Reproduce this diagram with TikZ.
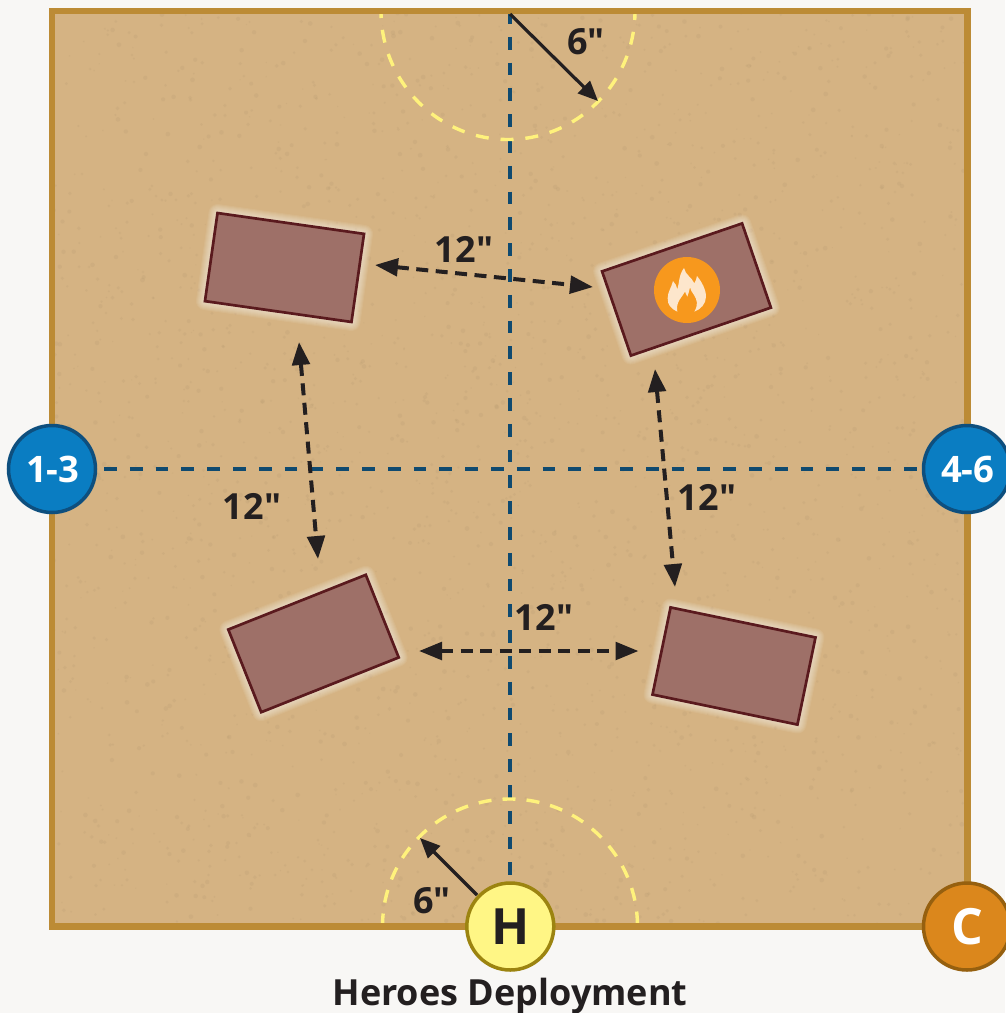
\documentclass[tikz,border=0pt]{standalone}
\usepackage{fontspec}
\setmainfont{Open Sans}[Ligatures=TeXOff]
\usetikzlibrary{arrows.meta,calc}
\definecolor{paper}{HTML}{F8F7F5}
\definecolor{board}{HTML}{D5B383}
\definecolor{boardedge}{HTML}{BC8B35}
\definecolor{speck}{HTML}{B5996F}
\definecolor{linenavy}{HTML}{0F4A70}
\definecolor{arcyellow}{HTML}{FFF27C}
\definecolor{ink}{HTML}{231F20}
\definecolor{ruin}{HTML}{9E7068}
\definecolor{ruinedge}{HTML}{5A1A1E}
\definecolor{flameorange}{HTML}{F7981D}
\definecolor{flamelight}{HTML}{FDE6CC}
\definecolor{blueA}{HTML}{0A7DC2}
\definecolor{blueB}{HTML}{0E4F7E}
\definecolor{yelA}{HTML}{FFF685}
\definecolor{yelB}{HTML}{9C8410}
\definecolor{orA}{HTML}{DB871C}
\definecolor{orB}{HTML}{96600F}
\tikzset{
  ruinbox/.style={draw=ruinedge,fill=ruin,line width=2.7pt,minimum width=148pt,minimum height=89pt,inner sep=0pt,outer sep=0pt},
  ruinglow/.style={draw=white,line width=#1,opacity=0.07,line join=round,fill=white,fill opacity=0.07,minimum width=148pt,minimum height=89pt,inner sep=0pt,outer sep=0pt},
  marker/.style={circle,line width=3.5pt,minimum size=87pt,inner sep=0pt,outer sep=0pt,font=\bfseries\fontsize{36.5}{37}\selectfont},
  bigmarker/.style={marker,font=\bfseries\fontsize{50}{50}\selectfont},
  axisline/.style={draw=linenavy,line width=3.4pt,dash pattern=on 12.8pt off 13pt},
  arcline/.style={draw=arcyellow,line width=3.4pt},
  solidarrow/.style={draw=ink,line width=3.2pt,-{Triangle[length=20pt,width=17pt]}},
  gaparrow/.style={draw=ink,line width=4pt,dash pattern=on 12pt off 7.5pt,{Triangle[length=23pt,width=17.5pt]}-{Triangle[length=23pt,width=17.5pt]}},
  label/.style={text=ink,font=\bfseries\fontsize{36}{36}\selectfont,inner sep=0pt},
}
\newcommand{\ruinat}[3]{%
  \foreach \g in {18pt,16pt,14pt,12pt,10pt,8pt,6pt,4pt}{\node[ruinglow=\g,rotate=#2] at (#1) {};}
  \node[ruinbox,rotate=#2] (#3) at (#1) {};}
\begin{document}
\begin{tikzpicture}[x=1pt,y=-1pt]
\useasboundingbox (0,0) rectangle (1005,1013);
\fill[paper] (0,0) rectangle (1005,1013);
% board
\fill[board] (52,11) rectangle (967.5,926.5);
\begin{scope}
\clip (52,11) rectangle (967.5,926.5);
\pgfmathsetseed{7}
\foreach \i in {1,...,2600}{
  \pgfmathsetmacro{\px}{52+rnd*916}
  \pgfmathsetmacro{\py}{11+rnd*916}
  \pgfmathsetmacro{\pr}{0.6+rnd*1.8}
  \fill[speck,opacity=0.2] (\px,\py) circle[radius=\pr pt];
}
\end{scope}
% axes
\coordinate (topmid) at (510,11);
\coordinate (botmid) at (510,880);
\coordinate (leftmid) at (104,469);
\coordinate (rightmid) at (918,469);
\draw[axisline] (topmid) -- (botmid);
\draw[axisline] (leftmid) -- (rightmid);
% arcs
\draw[arcline,dash pattern=on 13pt off 11.9pt,dash phase=6pt] (381,11) arc[start angle=180,end angle=360,x radius=127pt,y radius=128.5pt];
\draw[arcline,dash pattern=on 13pt off 11.1pt] (382.5,926.5) arc[start angle=180,end angle=0,radius=127.5pt];
\draw[boardedge,line width=6.5pt] (52,11) rectangle (967.5,926.5);
% ruins
\ruinat{284.5,267.5}{-8.1}{ruinA}
\ruinat{686.5,289.5}{18.9}{ruinB}
\ruinat{313.5,643.5}{21.7}{ruinC}
\ruinat{734,666}{-11.7}{ruinD}
% flame badge
\node[circle,fill=flameorange,minimum size=66pt,inner sep=0pt] (fire) at (687,290) {};
\begin{scope}[shift={(600,200)},x=0.3333pt,y=-0.3333pt]
\fill[flamelight] (232,335) .. controls (212,325) and (203,315) .. (203,295)
  .. controls (203,275) and (215,262) .. (219,243)
  .. controls (226,250) and (230,258) .. (232,268)
  .. controls (238,250) and (236,225) .. (252,204)
  .. controls (256,225) and (276,232) .. (283,250)
  .. controls (287,243) and (290,236) .. (291,228)
  .. controls (305,245) and (318,268) .. (318,290)
  .. controls (318,312) and (302,328) .. (283,335)
  .. controls (295,315) and (292,300) .. (282,285)
  .. controls (276,277) and (272,270) .. (270,262)
  .. controls (268,272) and (265,282) .. (262,290)
  .. controls (260,285) and (257,280) .. (255,275)
  .. controls (248,290) and (226,305) .. (232,335) -- cycle;
\end{scope}
% six-inch arrows
\coordinate (sixTa) at (510,14);
\coordinate (sixTb) at (598,101);
\draw[solidarrow] (sixTa) -- (sixTb);
\node[label] (sixT) at (586,42) {6"};
\coordinate (sixBa) at (477,895);
\coordinate (sixBb) at (420,838);
\draw[solidarrow] (sixBa) -- (sixBb);
\node[label] (sixB) at (432,901) {6"};
% twelve-inch arrows
\coordinate (aA) at (375,265); \coordinate (aB) at (593,287);
\coordinate (bA) at (299,342); \coordinate (bB) at (318,559);
\coordinate (cA) at (655,369); \coordinate (cB) at (675,587);
\coordinate (dA) at (419,651); \coordinate (dB) at (638.5,651);
\draw[gaparrow] (aA) -- (aB);
\draw[gaparrow] (bA) -- (bB);
\draw[gaparrow] (cA) -- (cB);
\draw[gaparrow] (dA) -- (dB);
\node[label] (l1) at (464,249) {12"};
\node[label] (l2) at (252,506) {12"};
\node[label] (l3) at (707,497) {12"};
\node[label] (l4) at (544,617) {12"};
% markers
\node[marker,draw=blueB,fill=blueA,text=white] (m13) at (52,469) {\hspace*{1.5pt}1-3};
\node[marker,draw=blueB,fill=blueA,text=white] (m46) at (967,469) {\hspace*{1.5pt}4-6};
\node[bigmarker,draw=yelB,fill=yelA,text=ink] (mH) at (510.3,926.5) {H};
\node[bigmarker,draw=orB,fill=orA,text=white] (mC) at (967,926.5) {C};
\node[label] (title) at (510,996) {Heroes Deployment};
\end{tikzpicture}
\end{document}
